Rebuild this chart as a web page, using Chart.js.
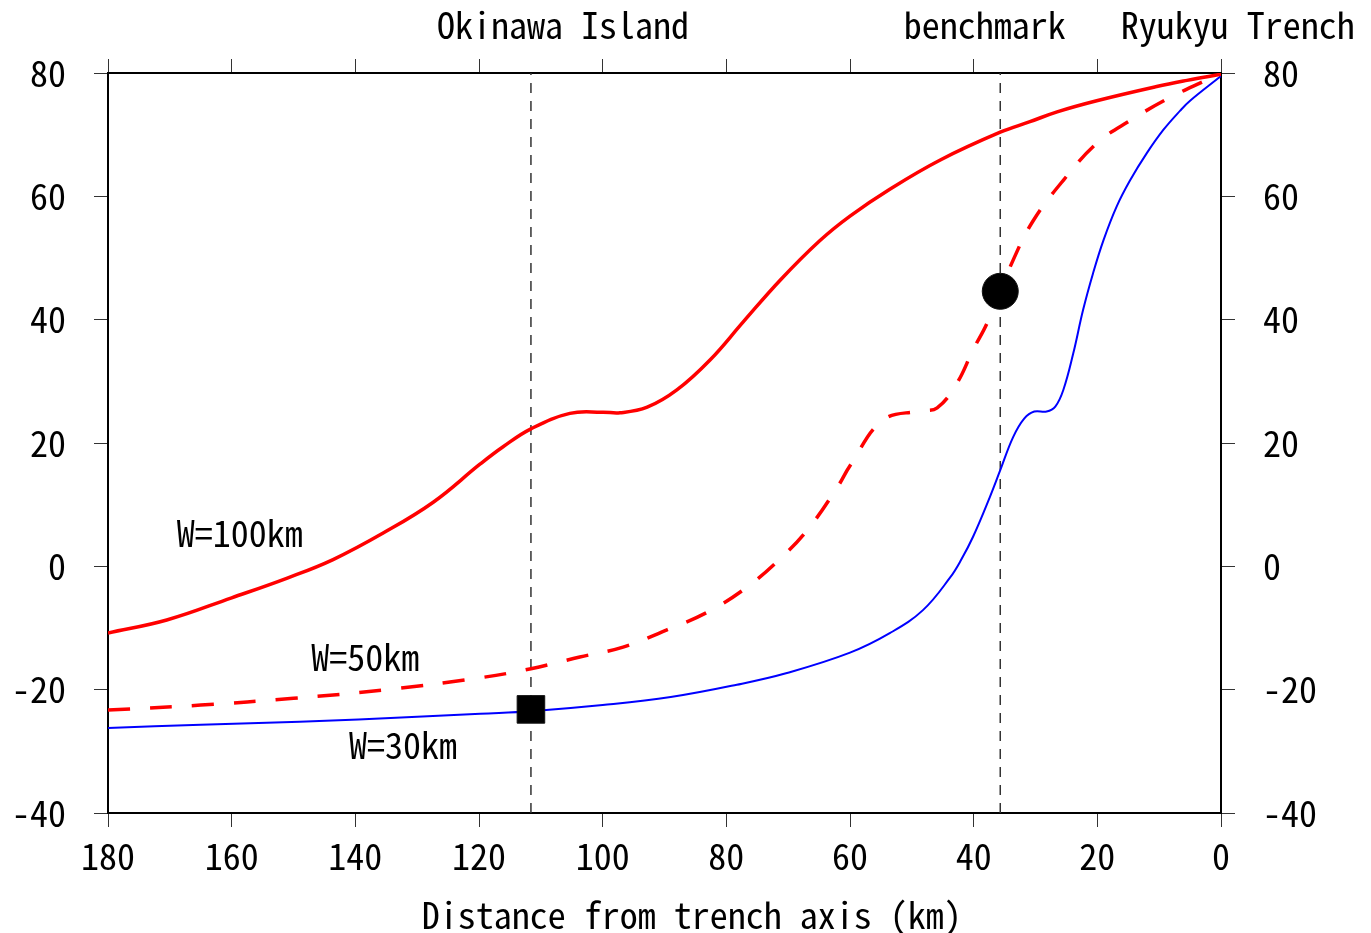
<!DOCTYPE html>
<html><head><meta charset="utf-8">
<script src="https://cdn.jsdelivr.net/npm/chart.js@4.4.1/dist/chart.umd.min.js"></script>
<style>html,body{margin:0;padding:0;background:#fff}canvas{display:block}</style>
</head><body>
<canvas id="c" width="1371" height="933"></canvas>
<script>
// ---- data (distance from trench axis in km, value) ----
const distW100 = [180, 170.5, 160, 151, 143.6, 135.5, 127.4, 119.8, 116.1, 111.6, 105.3, 100, 97.2, 92.8, 88, 82.6, 77.3, 71.3, 64.9, 60, 53.5, 45.4, 35.7, 30.9, 26.5, 20.1, 10.4, 5.5, 0];
const valW100  = [-10.8, -8.7, -5.1, -1.9, 1.1, 5.4, 10.4, 16.6, 19.4, 22.3, 24.8, 25.0, 24.9, 25.8, 28.6, 33.5, 39.6, 46.4, 52.8, 56.8, 61.2, 65.9, 70.4, 72.1, 73.7, 75.5, 77.8, 78.8, 79.8];

const distW50 = [180, 165, 150, 135, 120, 111.6, 103.7, 96.7, 89.6, 83, 76.7, 71, 66.5, 62, 60, 54.7, 48.7, 45.9, 42.7, 40.1, 37.8, 33.6, 30.4, 25.5, 20.1, 14.7, 8.3, 2.3, 0];
const valW50  = [-23.3, -22.5, -21.4, -20.0, -18.1, -16.6, -14.7, -13.1, -10.3, -7.4, -3.4, 1.5, 6.4, 12.9, 16.3, 23.7, 25.2, 25.7, 29.7, 35.1, 39.5, 49.7, 56.0, 62.6, 68.6, 72.3, 76.0, 78.9, 80];

const distW30 = [180, 165, 149, 130, 119.8, 111.6, 100, 89, 78.3, 70.2, 60, 53.5, 48.2, 43.8, 42, 40.1, 37.4, 35.7, 33.6, 31.8, 30.2, 28.2, 26.8, 25.5, 23.9, 22.3, 20.7, 19.0, 16.9, 14.7, 12.0, 9.3, 6.6, 5.0, 0];
const valW30  = [-26.2, -25.7, -25.2, -24.4, -23.9, -23.5, -22.5, -21.2, -19.2, -17.3, -14.0, -10.8, -7.1, -1.8, 1.1, 4.8, 11.2, 15.6, 21.0, 24.0, 25.1, 25.1, 25.9, 28.6, 34.5, 41.6, 47.5, 52.9, 58.3, 62.6, 67.0, 70.8, 73.9, 75.5, 79.5];

const benchmarkDist = [35.7];
const benchmarkVal  = [44.6];
const okinawaDist = [111.6];
const okinawaVal  = [-23.2];

const guideDist = [111.6, 35.7];
const yRange = [-40, 80];
const xRange = [0, 180];

const curveLabels = ['W=100km', 'W=50km', 'W=30km'];
const curveLabelDist = [158.7, 138.4, 132.3];
const curveLabelVal = [5.4, -14.7, -29.0];

const topLabels = ['Okinawa Island', 'benchmark', 'Ryukyu Trench'];
const topLabelDist = [106.4, 38.2, -2.7];

const axisTitle = 'Distance from trench axis (km)';
const axisTitleDist = 85.6;

// ---- helpers ----
const pts = (xs, ys) => xs.map((x, i) => ({x: x, y: ys[i]}));
const FONT = '"Noto Sans Mono CJK JP", "Noto Sans CJK JP", "Liberation Sans Narrow", sans-serif';
const FS = 36;

const datasets = [
  {label: 'benchmark', data: pts(benchmarkDist, benchmarkVal), showLine: false,
   pointStyle: 'circle', pointRadius: 18, backgroundColor: '#000', borderColor: '#111', borderWidth: 1, order: 0},
  {label: 'okinawa', data: pts(okinawaDist, okinawaVal), showLine: false,
   pointStyle: 'rect', pointRadius: 19.5, backgroundColor: '#000', borderColor: '#111', borderWidth: 1, order: 0},
  {label: 'W=100km', data: pts(distW100, valW100), borderColor: '#ff0000', borderWidth: 3.5,
   pointRadius: 0, fill: false, tension: 0.4, order: 1},
  {label: 'W=50km', data: pts(distW50, valW50), borderColor: '#ff0000', borderWidth: 3.5, borderDash: [22, 20],
   pointRadius: 0, fill: false, tension: 0.4, order: 1},
  {label: 'W=30km', data: pts(distW30, valW30), borderColor: '#0000ff', borderWidth: 2,
   pointRadius: 0, fill: false, tension: 0.4, order: 1},
];
guideDist.forEach((d, i) => {
  datasets.push({label: 'guide' + i, data: [{x: d, y: yRange[0]}, {x: d, y: yRange[1]}],
    borderColor: '#333', borderWidth: 1.5, borderDash: [10, 8], pointRadius: 0, fill: false, order: 2});
});

const textPlugin = {
  id: 'texts',
  afterDatasetsDraw(chart) {
    const ctx = chart.ctx, xs = chart.scales.x, ys = chart.scales.y;
    ctx.save();
    ctx.fillStyle = '#000';
    ctx.font = FS + 'px ' + FONT;
    ctx.textAlign = 'center';
    ctx.textBaseline = 'middle';
    curveLabels.forEach((t, i) => {
      ctx.fillText(t, xs.getPixelForValue(curveLabelDist[i]), ys.getPixelForValue(curveLabelVal[i]));
    });
    topLabels.forEach((t, i) => {
      ctx.fillText(t, xs.getPixelForValue(topLabelDist[i]), 25);
    });
    ctx.fillText(axisTitle, xs.getPixelForValue(axisTitleDist), chart.height - 18);
    ctx.restore();
  }
};

const gridOpts = {drawOnChartArea: false, drawTicks: true, tickLength: 14, color: '#333', tickColor: '#333', lineWidth: 1};
const borderOpts = {display: true, color: '#000', width: 2};

new Chart(document.getElementById('c'), {
  type: 'line',
  data: {datasets: datasets},
  options: {
    responsive: false,
    animation: false,
    events: [],
    layout: {padding: 0},
    plugins: {legend: {display: false}, tooltip: {enabled: false}, title: {display: false}},
    scales: {
      x: {type: 'linear', position: 'bottom', min: xRange[0], max: xRange[1], reverse: true,
          ticks: {stepSize: 20, color: '#000', font: {family: FONT, size: FS}, padding: 8, maxRotation: 0},
          grid: gridOpts, border: borderOpts,
          afterFit: s => { s.height = 120; }},
      x2: {type: 'linear', position: 'top', min: xRange[0], max: xRange[1], reverse: true,
          ticks: {stepSize: 20, display: false},
          grid: gridOpts, border: borderOpts,
          afterFit: s => { s.height = 73; }},
      y: {type: 'linear', position: 'left', min: yRange[0], max: yRange[1],
          ticks: {stepSize: 20, color: '#000', font: {family: FONT, size: FS}, padding: 28},
          grid: gridOpts, border: borderOpts,
          afterFit: s => { s.width = 108; }},
      y2: {type: 'linear', position: 'right', min: yRange[0], max: yRange[1],
          ticks: {stepSize: 20, color: '#000', font: {family: FONT, size: FS}, padding: 28},
          grid: gridOpts, border: borderOpts,
          afterFit: s => { s.width = 150; }}
    }
  },
  plugins: [textPlugin]
});
</script>
</body></html>
